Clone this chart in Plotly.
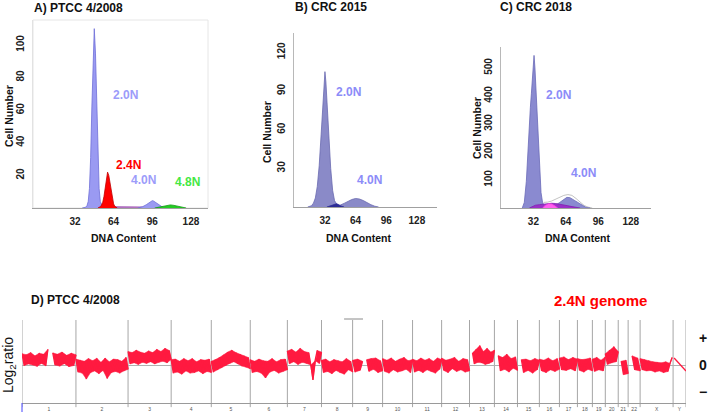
import plotly.graph_objects as go

W, H = 708, 413

# ---------------- Panel A: PTCC 4/2008 (DNA histogram) ----------------
a_g1_x = [38, 41, 42, 43, 44, 45, 46, 47, 48, 49, 50, 51, 52, 53, 54, 55, 58]
a_g1_y = [0, 0.5, 1.5, 4, 12, 31, 62, 95, 110, 95, 62, 31, 12, 4, 1.5, 0.5, 0]
a_red_x = [51, 53, 54, 55, 56, 57, 58, 59, 60, 61, 62, 63, 64, 65, 67]
a_red_y = [0, 0.8, 1.8, 3.5, 7, 12, 17.5, 22, 20, 15, 9.5, 5, 2.5, 1, 0]
a_s_x = [50, 56, 64, 72, 80, 88, 96, 104, 112, 118]
a_s_y = [0, 0.6, 0.9, 0.8, 0.8, 0.7, 0.8, 0.6, 0.4, 0]
a_g2_x = [84, 88, 91, 93, 95, 96, 97, 99, 101, 104, 108]
a_g2_y = [0, 0.8, 2.0, 3.2, 4.2, 4.5, 4.3, 3.3, 2.1, 0.8, 0]
a_grn_x = [98, 102, 105, 108, 111, 114, 117, 120, 124]
a_grn_y = [0, 0.5, 1.1, 1.7, 1.9, 1.6, 1.0, 0.4, 0]

# ---------------- Panel B: CRC 2015 ----------------
b_g1_x = [14, 18, 20, 22, 24, 26, 28, 30, 31, 32, 33, 34, 36, 38, 40, 42, 44, 46, 48, 52]
b_g1_y = [0, 1, 3, 7, 16, 32, 56, 85, 98, 105, 97, 84, 52, 30, 13, 5, 2.5, 1.2, 0.5, 0]
b_s_x = [34, 38, 42, 44, 46, 48, 52]
b_s_y = [0, 0.8, 2, 2.5, 2, 1, 0]
b_g2_x = [40, 44, 48, 52, 56, 60, 64, 66, 68, 72, 76, 80, 84, 88]
b_g2_y = [0, 0.6, 1.5, 2.8, 4.3, 5.8, 6.6, 6.6, 6.2, 5.0, 3.3, 1.8, 0.6, 0]

# ---------------- Panel C: CRC 2018 ----------------
c_g1_x = [21, 23, 25, 26, 27, 28, 29, 30, 31, 32, 32.6, 33.5, 34.5, 35.5, 36.5, 37.5, 38.5, 39.5, 41, 43, 45]
c_g1_y = [0, 20, 95, 170, 250, 310, 360, 410, 470, 530, 545, 500, 420, 320, 250, 160, 100, 55, 20, 5, 0]
c_s_x = [28, 31, 34, 38, 42, 46, 50, 54, 58, 62, 66, 70, 74, 78]
c_s_y = [0, 6, 10, 12, 14, 16, 17, 16, 14, 11, 8, 5, 2, 0]
c_pink_x = [41, 44, 47, 50, 53, 56]
c_pink_y = [0, 10, 15, 14, 8, 0]
c_g2_x = [46, 50, 54, 58, 62, 65, 68, 72, 76, 80, 84, 88]
c_g2_y = [0, 4, 10, 20, 32, 38, 37, 28, 17, 8, 2, 0]
c_fit_x = [42, 46, 50, 54, 58, 62, 66, 70, 74, 78, 82, 86, 90]
c_fit_y = [20, 21, 25, 31, 38, 45, 48, 45, 34, 20, 9, 3, 0]

hist_ticks = [32, 64, 96, 128]

# ---------------- Panel D: copy-number profile ----------------
chrom_names = [str(i) for i in range(1, 23)] + ["X", "Y"]
chrom_len = [234, 226, 187, 174, 169, 161, 148, 135, 130, 130, 126, 121,
             108, 100, 95, 87, 78, 65, 56, 56, 43, 52, 143, 56]

# log2 ratio readings (hundredths) per chromosome segment
cn_1p = [42, -2, 38, 4, 46, 0, 34, -5, 44, 6, 40, -3, 58]
cn_1q = [45, 0, 40, -4, 48, 5, 36, -6, 44, -2, 38]
cn_2 = [22, -26, 18, -30, 14, -52, 24, -28, 16, -22, 25, -32, 10, -20, 26, -50, 12, -28, 22, -24, 20, -30, 14, -22, 28, -16]
cn_3 = [50, 4, 46, 8, 55, 2, 48, 10, 44, 6, 52, 12, 46, 4, 58, 10, 50, 14, 62, 8, 54, 20]
cn_4 = [20, -30, 22, -26, 14, -34, 24, -22, 16, -30, 24, -28, 12, -22, 20, -32, 18, -24, 22, -28]
cn_5 = [14, -26, 20, -18, 28, -10, 38, -2, 48, 6, 55, 12, 46, 4, 40, -4, 34, -8, 28, -14]
cn_6 = [20, -28, 14, -24, 22, -30, 16, -48, 14, -26, 24, -20, 12, -30, 20, -24, 22, -18]
cn_7 = [52, 5, 58, 12, 48, 2, 62, 10, 50, 6, 46, 0, -55, 16, 54, 6, 48]
cn_8 = [18, -28, 22, -24, 12, -32, 20, -20, 16, -28, 12, -34, 24, -18, 14, -26]
cn_9p = [18, -26, 22, -20, 14]
cn_9q = [20, -24, 24, -16, 26, -28, 16, -22]
cn_10 = [24, -24, 18, -30, 26, -18, 14, -26, 22, -22, 28, -16, 16, -28, 20]
cn_11 = [22, -26, 16, -20, 26, -28, 18, -18, 24, -24, 14, -30, 26, -16, 20]
cn_12 = [26, -20, 18, -28, 22, -14, 28, -24, 14, -18, 24, -26, 20, -22]
cn_13 = [45, 4, 58, 10, 72, 8, 50, 2, 62, 6, 48, 12, 55]
cn_14 = [35, -22, 28, -16, 40, -26, 24, -12, 30, -20]
cn_15 = [20, -28, 22, -20, 16, -30, 24, -18, 18]
cn_16 = [22, -22, 18, -28, 26, -18, 16, -24, 24, -16]
cn_17 = [26, -18, 30, -20, 20, -14, 28, -22, 22]
cn_18 = [24, -20, 20, -26, 22, -16, 26, -22]
cn_19 = [22, -24, 28, -18, 18, -22, 30]
cn_20 = [42, 2, 55, 8, 68, 12, 50]
cn_21 = [14, -36, 18, -32]
cn_22 = [34, -18, 26, -22]
cn_X = [24, -18, 20, -22, 16, -20, 12, -26, 10, -22, 8, -28, 12, -24, 6, 28]
cn_Y = [26, -22]

# (chromosome index, start fraction, end fraction, values)
cn_segments = [
    (0, 0.0, 0.48, cn_1p), (0, 0.57, 1.0, cn_1q), (1, 0.0, 1.0, cn_2),
    (2, 0.0, 1.0, cn_3), (3, 0.0, 1.0, cn_4), (4, 0.0, 1.0, cn_5),
    (5, 0.0, 1.0, cn_6), (6, 0.0, 1.0, cn_7), (7, 0.0, 1.0, cn_8),
    (8, 0.0, 0.33, cn_9p), (8, 0.47, 1.0, cn_9q), (9, 0.0, 1.0, cn_10),
    (10, 0.0, 1.0, cn_11), (11, 0.0, 1.0, cn_12), (12, 0.12, 1.0, cn_13),
    (13, 0.17, 1.0, cn_14), (14, 0.18, 1.0, cn_15), (15, 0.0, 1.0, cn_16),
    (16, 0.0, 1.0, cn_17), (17, 0.0, 1.0, cn_18), (18, 0.0, 1.0, cn_19),
    (19, 0.0, 1.0, cn_20), (20, 0.3, 1.0, cn_21), (21, 0.33, 1.0, cn_22),
    (22, 0.0, 0.97, cn_X), (23, 0.08, 1.0, cn_Y),
]
top_marker_seg = [1397, 1479]

FONT = "Liberation Sans, Arial, sans-serif"
CN_RED = "#ff1a40"


def pxx(x):
    return x / W


def pyy(y):
    return 1 - y / H


fig = go.Figure()


def area(x, y, fill, line, xa, ya, width=0.8):
    fig.add_trace(go.Scatter(x=x, y=y, mode="lines", fill="tozeroy",
                             fillcolor=fill, line=dict(color=line, width=width),
                             xaxis=xa, yaxis=ya, showlegend=False, hoverinfo="skip"))


# Panel A traces
area(a_s_x, a_s_y, "#b070c0", "#b070c0", "x", "y")
area(a_g1_x, a_g1_y, "#9a9af2", "#6e6ed8", "x", "y")
area(a_red_x, a_red_y, "#ff0000", "#c00000", "x", "y")
area(a_g2_x, a_g2_y, "#9a9af2", "#6e6ed8", "x", "y")
area(a_grn_x, a_grn_y, "#22cc22", "#119911", "x", "y")

# Panel B traces
area(b_g1_x, b_g1_y, "#8a8ac8", "#6a6ab0", "x2", "y2")
area(b_g2_x, b_g2_y, "#8a8ac8", "#6a6ab0", "x2", "y2")
area(b_s_x, b_s_y, "#2c2c96", "#2c2c96", "x2", "y2")

# Panel C traces
fig.add_trace(go.Scatter(x=c_fit_x, y=c_fit_y, mode="lines", line=dict(color="#b4b4b4", width=0.8),
                         xaxis="x3", yaxis="y3", showlegend=False, hoverinfo="skip"))
area(c_g1_x, c_g1_y, "#8a8ad0", "#6a6ab8", "x3", "y3")
area(c_g2_x, c_g2_y, "#8a8ad0", "#6a6ab8", "x3", "y3")
area(c_s_x, c_s_y, "#9a30c8", "#8020b0", "x3", "y3")
area(c_pink_x, c_pink_y, "#ff60f0", "#ff40e0", "x3", "y3")

# Panel D copy-number traces
starts = [0]
for L in chrom_len:
    starts.append(starts[-1] + L)
total = starts[-1]
cx, cy = [], []
bx, by = [], []
for ci, f0, f1, vals in cn_segments:
    s = starts[ci] + f0 * chrom_len[ci]
    e = starts[ci] + f1 * chrom_len[ci]
    n = len(vals)
    xs = [s + (e - s) * i / (n - 1) for i in range(n)]
    ys = [v / 100 for v in vals]
    cx += xs + [None]
    cy += ys + [None]
    if n >= 4:
        up = list(zip(xs[0::2], ys[0::2]))
        lo = list(zip(xs[1::2], ys[1::2]))
        poly = up + lo[::-1]
        bx += [p[0] for p in poly] + [None]
        by += [p[1] for p in poly] + [None]
fig.add_trace(go.Scatter(x=bx, y=by, mode="lines", fill="toself", fillcolor=CN_RED,
                         line=dict(color=CN_RED, width=0.5, simplify=False),
                         xaxis="x4", yaxis="y4", showlegend=False, hoverinfo="skip"))
fig.add_trace(go.Scatter(x=cx, y=cy, mode="lines", line=dict(color=CN_RED, width=1.3, simplify=False),
                         xaxis="x4", yaxis="y4", showlegend=False, hoverinfo="skip"))

tickfont = dict(family=FONT, size=10, color="#222", weight="bold")
hist_x = dict(showgrid=False, zeroline=False, showline=True, linecolor="#a0a0a0", linewidth=1,
              tickvals=hist_ticks, tickfont=tickfont, ticks="", ticklabelstandoff=4, fixedrange=True)
hist_y = dict(showgrid=False, zeroline=False, showline=True, linecolor="#b8b8b8", linewidth=1,
              tickfont=tickfont, ticks="", tickangle=-90, ticklabelstandoff=4, fixedrange=True)

chrom_mid = [starts[i] + chrom_len[i] / 2 for i in range(len(chrom_len))]

fig.update_layout(
    width=W, height=H, autosize=False,
    margin=dict(l=0, r=0, t=0, b=0),
    paper_bgcolor="white", plot_bgcolor="white",
    xaxis=dict(hist_x, domain=[pxx(33), pxx(208)], range=[-2.7, 142.1], anchor="y"),
    yaxis=dict(hist_y, domain=[pyy(208), pyy(20)], range=[0, 115.3], tickvals=[20, 40, 60, 80, 100],
               anchor="x", linecolor="#e2e2e2"),
    xaxis2=dict(hist_x, domain=[pxx(294.3), pxx(437)], range=[0, 149], anchor="y2"),
    yaxis2=dict(hist_y, domain=[pyy(207), pyy(33)], range=[0, 135], tickvals=[30, 60, 90, 120], anchor="x2"),
    xaxis3=dict(hist_x, domain=[pxx(501), pxx(651)], range=[0, 148], anchor="y3"),
    yaxis3=dict(hist_y, domain=[pyy(208), pyy(47)], range=[0, 575], tickvals=[100, 200, 300, 400, 500], anchor="x3"),
    xaxis4=dict(domain=[pxx(22), pxx(686)], range=[0, total], anchor="y4", showgrid=False, zeroline=False,
                showline=True, linecolor="#9a9a9a", linewidth=1, tickvals=chrom_mid, ticktext=chrom_names,
                tickfont=dict(family=FONT, size=5, color="#555"), ticks="", ticklabelstandoff=1, fixedrange=True),
    yaxis4=dict(domain=[pyy(403), pyy(320)], range=[-1.407, 1.667], anchor="x4", side="right",
                showgrid=False, zeroline=True, zerolinecolor="#b0b0b0", zerolinewidth=1, showline=False,
                tickvals=[-1, 0, 1], ticktext=["\u2212", "0", "+"], ticks="", ticklabelstandoff=12,
                tickfont=dict(family=FONT, size=14, color="#111", weight="bold"), fixedrange=True),
)

shapes = []
# faint frame of panel A
shapes.append(dict(type="rect", xref="paper", yref="paper", x0=pxx(33), x1=pxx(208), y0=pyy(208), y1=pyy(20),
                   line=dict(color="#e6e6e6", width=1), layer="below"))
# chromosome boundaries
for b in starts:
    shapes.append(dict(type="line", xref="x4", yref="y4 domain", x0=b, x1=b, y0=-0.05, y1=1,
                       line=dict(color="#a6a6a6", width=1), layer="below"))
shapes.append(dict(type="line", xref="x4", yref="paper", x0=top_marker_seg[0], x1=top_marker_seg[1],
                   y0=pyy(319), y1=pyy(319), line=dict(color="#8a8a8a", width=1)))
shapes.append(dict(type="line", xref="paper", yref="paper", x0=pxx(22), x1=pxx(22), y0=pyy(403), y1=pyy(412),
                   line=dict(color="#4444ff", width=1)))
fig.update_layout(shapes=shapes)

ann = []


def text(t, x, y, size, color="#111", bold=True, angle=0, xanchor="center"):
    ann.append(dict(text=t, x=pxx(x), y=pyy(y), xref="paper", yref="paper", showarrow=False,
                    xanchor=xanchor, yanchor="middle", textangle=angle,
                    font=dict(family=FONT, size=size, color=color, weight="bold" if bold else "normal")))


text("A) PTCC 4/2008", 32, 8, 12, xanchor="left")
text("B) CRC 2015", 293, 7, 12, xanchor="left")
text("C) CRC 2018", 498, 7, 12, xanchor="left")
text("D) PTCC 4/2008", 29, 300, 12, xanchor="left")
text("2.4N genome", 552, 300, 15, color="#ff0000", xanchor="left")

for cxp, cyp in [(9, 116), (267, 132), (477, 128)]:
    text("Cell Number", cxp, cyp, 10.5, angle=-90)
for cxp in [123, 358.5, 577]:
    text("DNA Content", cxp, 238, 10.5)

blue_lbl = "#9c9cfa"
text("2.0N", 125, 95, 12, color=blue_lbl)
text("2.4N", 128, 165, 12, color="#ff0000")
text("4.0N", 143, 180, 12, color=blue_lbl)
text("4.8N", 187, 182, 12, color="#44e844")
text("2.0N", 348.5, 92, 12, color="#8c8cf8")
text("4.0N", 369.5, 180, 12, color="#8c8cf8")
text("2.0N", 558.5, 95, 12, color="#8c8cf8")
text("4.0N", 583.5, 173, 12, color="#8c8cf8")
text("Log<sub>2</sub>ratio", 9, 365, 14, bold=False, angle=-90)

fig.update_layout(annotations=ann)
fig.write_html("out.html", config={"displayModeBar": False},
               post_script="document.body.style.margin='0px';document.body.style.padding='0px';")
